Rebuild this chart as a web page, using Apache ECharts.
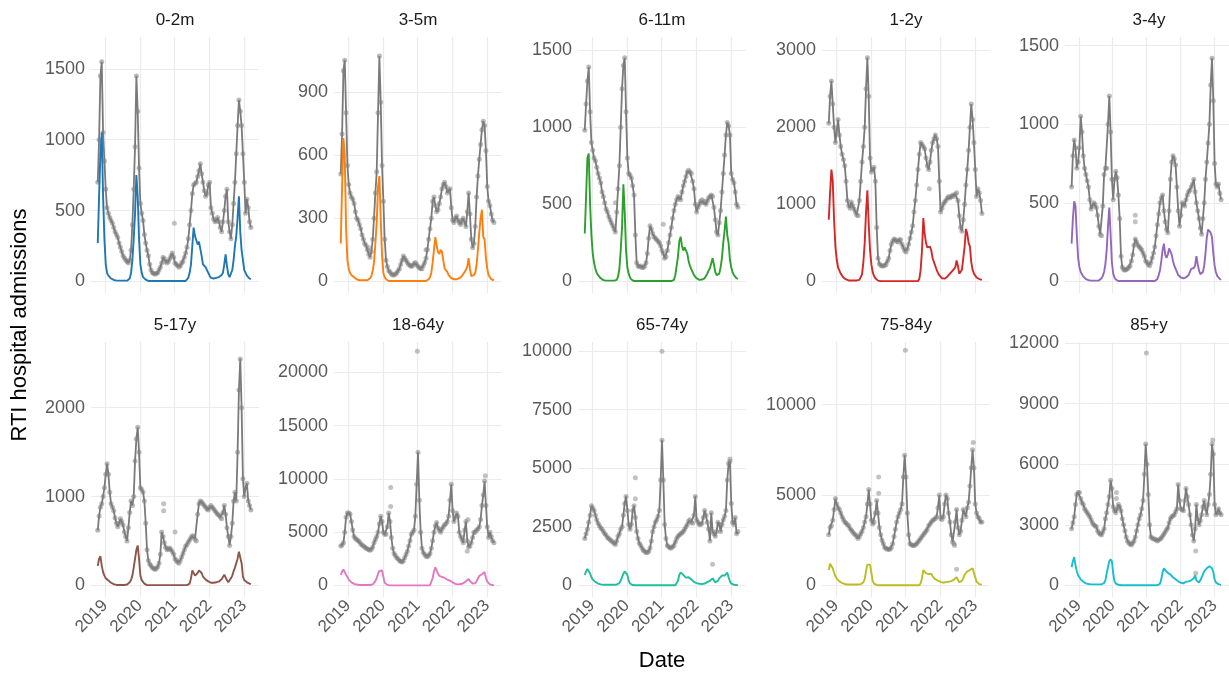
<!DOCTYPE html>
<html>
<head>
<meta charset="utf-8">
<script src="https://cdn.jsdelivr.net/npm/echarts@6/dist/echarts.min.js"></script>
<style>
  html, body { margin: 0; padding: 0; background: #fff; }
  #chart { width: 1229px; height: 675px; }
</style>
</head>
<body>
<div id="chart"></div>
<script>
// fortnightly points, first one on 2018-10-15
const firstDay = [2018, 9, 15]
const stepDays = 14

const panels = ['0-2m', '3-5m', '6-11m', '1-2y', '3-4y', '5-17y', '18-64y', '65-74y', '75-84y', '85+y']
const lineColors = ['#1f77b4', '#ff7f0e', '#2ca02c', '#d62728', '#9467bd', '#8c564b', '#e377c2', '#1fbf9c', '#bcbd22', '#17becf']
const yearTicks = [2019, 2020, 2021, 2022, 2023]
const yTicks = [
  [0, 500, 1000, 1500], [0, 300, 600, 900], [0, 500, 1000, 1500], [0, 1000, 2000, 3000], [0, 500, 1000, 1500],
  [0, 1000, 2000], [0, 5000, 10000, 15000, 20000], [0, 2500, 5000, 7500, 10000], [0, 5000, 10000], [0, 3000, 6000, 9000, 12000]
]
const yTop = [1725, 1160, 1585, 3170, 1555, 2740, 22860, 10390, 13460, 12050]

// grey: all RTI admissions
const rti02 = [
  700, 1000, 1450, 1550, 1050, 850, 650, 520, 480, 450,
  430, 410, 380, 350, 330, 310, 270, 240, 210, 180,
  165, 150, 140, 130, 150, 220, 400, 650, 950, 1450,
  1200, 800, 550, 480, 430, 330, 270, 220, 180, 120,
  80, 60, 55, 50, 55, 60, 80, 100, 130, 170,
  160, 140, 130, 140, 160, 180, 200, 170, 130, 120,
  110, 100, 110, 130, 140, 170, 200, 240, 300, 400,
  500, 620, 680, 690, 700, 740, 780, 830, 760, 700,
  640, 600, 620, 680, 700, 520, 480, 440, 420, 430,
  450, 420, 380, 350, 420, 500, 600, 650, 420, 350,
  300, 400, 550, 700, 900, 1100, 1280, 1200, 1100, 900,
  700, 480, 580, 520, 420, 380
]
const rti35 = [
  510, 700, 1000, 1050, 800, 550, 460, 420, 400, 390,
  370, 330, 300, 290, 270, 250, 220, 200, 180, 170,
  150, 130, 115, 140, 200, 300, 420, 520, 800, 1070,
  850, 550, 380, 200, 100, 70, 50, 45, 35, 30,
  30, 35, 40, 50, 60, 80, 100, 120, 110, 100,
  90, 80, 75, 70, 75, 85, 90, 80, 70, 65,
  60, 60, 75, 90, 110, 150, 200, 250, 300, 380,
  400, 360, 330, 340, 370, 400, 440, 460, 470, 450,
  420, 430, 440, 350, 290, 280, 300, 310, 290, 280,
  270, 290, 300, 280, 260, 330, 420, 320, 200, 160,
  180, 260, 400, 500, 580, 650, 720, 760, 740, 620,
  450, 380, 360, 320, 290, 280
]
const rti611 = [
  980, 1150, 1300, 1390, 1100, 900, 850, 800, 780, 740,
  700, 670, 640, 580, 550, 510, 470, 450, 420, 400,
  380, 360, 340, 320, 450, 600, 750, 1000, 1250, 1400,
  1450, 1100, 800, 700, 690, 670, 620, 560, 300, 120,
  100, 95, 100, 90, 90, 100, 120, 180, 280, 360,
  340, 310, 290, 280, 270, 260, 250, 230, 200, 180,
  150, 160, 200, 250, 300, 350, 410, 460, 500, 530,
  550, 540, 530, 580, 620, 650, 680, 710, 720, 710,
  700, 650, 600, 500, 450, 480, 500, 520, 530, 510,
  520, 500, 520, 540, 550, 560, 550, 480, 400, 320,
  300, 380, 460, 580, 700, 820, 950, 1030, 1010, 950,
  700, 660, 640, 580, 500, 480
]
const rti12 = [
  2050, 2400, 2600, 2300, 2000, 1800, 1950, 2100, 1900, 1750,
  1650, 1580, 1500, 1300, 1050, 980, 950, 1030, 980, 940,
  900, 860, 850, 1050, 1300, 1550, 1750, 2000, 2500, 2900,
  2400, 1600, 1420, 1450, 1480, 1300, 700, 300, 230, 210,
  200, 200, 210, 220, 260, 300, 400, 480, 520, 550,
  540, 520, 510, 540, 540, 480, 440, 400, 380, 420,
  480, 560, 640, 720, 900, 1050, 1250, 1450, 1650, 1800,
  1780, 1750, 1720, 1600, 1500, 1450, 1550, 1700, 1800, 1850,
  1900, 1850, 1750, 1300, 900, 950, 1000, 1030, 1050, 1080,
  1100, 1080, 1100, 1120, 1100, 1130, 1150, 1050, 850, 700,
  650, 800, 1000, 1250, 1450, 1700, 2000, 2300, 2100, 1800,
  1450, 1100, 1200, 1150, 1050, 880
]
const rti34 = [
  600, 800, 900, 850, 720, 760, 850, 1050, 950, 800,
  720, 680, 640, 600, 520, 460, 480, 500, 490, 470,
  420, 350, 300, 290, 480, 680, 720, 720, 1000, 1180,
  950, 650, 520, 650, 700, 660, 550, 400, 160, 90,
  75, 70, 75, 80, 90, 100, 130, 170, 230, 270,
  250, 230, 220, 210, 200, 180, 160, 130, 120, 105,
  100, 120, 150, 180, 220, 290, 360, 430, 500, 530,
  550, 450, 380, 330, 310, 450, 650, 760, 800, 780,
  740, 600, 450, 350, 420, 500, 490, 480, 520, 550,
  570, 580, 600, 620, 650, 570, 500, 450, 400, 340,
  300, 400, 500, 650, 760, 880, 1000, 1250, 1420, 1150,
  750, 620, 600, 620, 560, 520
]
const rti517 = [
  620, 780, 880, 920, 1000, 1100, 1250, 1370, 1250, 1050,
  920, 880, 840, 760, 700, 660, 700, 750, 720, 680,
  600, 550, 500, 650, 820, 950, 900, 1000, 1400, 1650,
  1780, 1500, 1100, 1080, 1050, 950, 700, 400, 280, 240,
  220, 200, 190, 180, 190, 210, 250, 350, 600, 550,
  480, 430, 400, 410, 420, 400, 380, 350, 300, 280,
  260, 250, 280, 320, 360, 400, 440, 460, 490, 510,
  540, 560, 550, 520, 500, 800, 920, 950, 940, 920,
  900, 880, 860, 850, 880, 900, 880, 860, 840, 820,
  800, 790, 770, 750, 820, 900, 800, 650, 550, 450,
  550, 700, 950, 1050, 950, 1500, 2200, 2550, 2000, 1200,
  1000, 1100, 1150, 950, 900, 850
]
const rti1864 = [
  3700, 3800, 4000, 5000, 6400, 6800, 6800, 6700, 6000, 5200,
  4600, 4400, 4300, 4200, 4100, 3900, 3800, 3700, 3600, 3500,
  3450, 3350, 3300, 3400, 3600, 4000, 4300, 4600, 5000, 5800,
  6500, 6000, 5000, 4800, 4800, 5500, 6800, 6000, 4500, 3500,
  3000, 2800, 2600, 2500, 2350, 2250, 2200, 2300, 2600, 2900,
  3200, 3700, 4200, 4800, 5000, 5200, 6500, 9500, 12500, 8000,
  5000, 3500, 3100, 2900, 2750, 2700, 2800, 3000, 3500, 4200,
  5000, 5600, 5900, 5400, 5200, 5000, 5300, 5500, 5700, 5800,
  6000, 6500, 8000, 9500, 7000, 6000, 6400, 6800, 6500, 5000,
  4600, 4300, 4000, 5200, 6000, 4200, 3600, 3700, 4000, 4500,
  5000, 5000, 5200, 5300, 5500, 6200, 7500, 8500, 9800, 7500,
  5500, 4500, 5000, 4600, 4200, 4000
]
const rti6574 = [
  2000, 2200, 2400, 2700, 3000, 3400, 3300, 3200, 3000, 2800,
  2650, 2550, 2450, 2400, 2300, 2200, 2150, 2050, 2000, 1950,
  1900, 1850, 1800, 1750, 1900, 2100, 2200, 2400, 2500, 3000,
  3500, 3800, 3200, 2600, 2400, 2600, 3200, 3400, 2900, 2300,
  2000, 1800, 1700, 1600, 1500, 1450, 1400, 1400, 1450, 1600,
  1900, 2300, 2500, 2700, 2800, 2950, 3200, 4500, 6200, 4500,
  2600, 2000, 1700, 1650, 1600, 1600, 1650, 1700, 1850, 2000,
  2100, 2150, 2200, 2250, 2300, 2400, 2500, 2600, 2750, 2800,
  2700, 2650, 3000, 3800, 2800, 2700, 2600, 2600, 2650, 2900,
  3200, 3000, 2700, 2400, 1900, 3100, 2300, 2200, 2100, 2300,
  2700, 2600, 2300, 2600, 2800, 2950, 3200, 4500, 5200, 5300,
  3500, 2700, 2600, 2900, 2200, 2300
]
const rti7584 = [
  2800, 3200, 3300, 3600, 4200, 4800, 4500, 4300, 4200, 4000,
  3800, 3650, 3500, 3450, 3350, 3300, 3150, 3050, 2950, 2850,
  2800, 2700, 2600, 2700, 2850, 3000, 3200, 3500, 3800, 4500,
  5300, 4500, 3600, 3400, 3500, 4000, 4700, 4000, 3200, 2800,
  2500, 2300, 2100, 2050, 2000, 2000, 2000, 2100, 2300, 2700,
  3100, 3500, 3800, 4000, 4200, 4500, 6000, 7200, 6000, 4000,
  2800, 2300, 2250, 2200, 2200, 2250, 2300, 2400, 2500, 2600,
  2700, 2800, 2900, 3000, 3100, 3300, 3400, 3500, 3600, 3650,
  3700, 3800, 4300, 5000, 3700, 3650, 3800, 4500, 5000, 4800,
  4000, 3500, 2800, 2400, 2300, 3500, 4200, 3200, 2800, 3000,
  3600, 4200, 4000, 3800, 4300, 4600, 5500, 6500, 7500, 6500,
  4500, 4000, 3800, 3700, 3500, 3500
]
const rti85 = [
  2800, 3100, 3400, 4000, 4500, 4600, 4600, 4300, 4100, 4000,
  3800, 3700, 3600, 3500, 3400, 3250, 3100, 3000, 2950, 2900,
  2700, 2600, 2550, 2500, 2650, 2800, 3300, 3600, 4000, 4400,
  5200, 4800, 3900, 3700, 3600, 3800, 4000, 3900, 3700, 3300,
  3000, 2700, 2400, 2200, 2100, 2050, 2000, 2100, 2200, 2400,
  2700, 3000, 3300, 3500, 3800, 4200, 5500, 7000, 6000, 4500,
  3000, 2400, 2350, 2300, 2300, 2250, 2200, 2250, 2300, 2350,
  2450, 2550, 2650, 2750, 2850, 3100, 3300, 3400, 3450, 3500,
  3650, 3800, 5000, 4200, 3800, 3750, 3700, 4200, 4800, 4400,
  4000, 3500, 3000, 2500, 2200, 2800, 4000, 3300, 3000, 3200,
  3500, 3900, 4200, 3800, 3500, 4000, 4500, 5500, 7000, 6500,
  4000, 3500, 3600, 3800, 3600, 3500
]

// coloured: the attributable part
const part02 = [
  270, 600, 900, 1050, 600, 300, 120, 60, 40, 30,
  20, 15, 10, 8, 5, 5, 5, 5, 5, 5,
  5, 5, 5, 8, 20, 60, 150, 300, 480, 750,
  600, 300, 120, 60, 30, 20, 12, 8, 3, 3,
  3, 3, 3, 3, 3, 3, 3, 3, 3, 3,
  3, 3, 3, 3, 3, 3, 3, 3, 3, 3,
  3, 3, 3, 3, 3, 3, 3, 10, 25, 60,
  120, 250, 380, 320, 290, 260, 280, 270, 180, 120,
  110, 100, 80, 60, 40, 25, 20, 20, 20, 25,
  25, 30, 35, 45, 60, 120, 190, 110, 50, 30,
  30, 80, 150, 250, 320, 450, 600, 350, 220, 150,
  80, 60, 40, 30, 20, 15
]
const part35 = [
  180, 450, 680, 600, 250, 100, 60, 40, 30, 25,
  20, 15, 10, 5, 5, 5, 5, 5, 5, 5,
  5, 8, 15, 25, 50, 90, 180, 280, 450, 500,
  300, 120, 40, 20, 10, 5, 2, 2, 2, 2,
  2, 2, 2, 2, 2, 2, 2, 2, 2, 2,
  2, 2, 2, 2, 2, 2, 2, 2, 2, 2,
  2, 2, 2, 2, 2, 5, 10, 20, 40, 90,
  150, 210, 170, 140, 130, 150, 140, 100, 60, 60,
  45, 30, 25, 15, 10, 10, 10, 10, 12, 15,
  20, 25, 35, 45, 55, 70, 110, 60, 25, 25,
  30, 40, 80, 150, 230, 300, 340, 210, 200, 110,
  60, 30, 20, 10, 8, 5
]
const part611 = [
  310, 550, 800, 830, 500, 300, 180, 120, 80, 55,
  40, 30, 20, 12, 8, 5, 5, 5, 5, 5,
  5, 5, 5, 5, 10, 30, 80, 200, 350, 630,
  450, 200, 90, 50, 25, 12, 6, 2, 2, 2,
  2, 2, 2, 2, 2, 2, 2, 2, 2, 2,
  2, 2, 2, 2, 2, 2, 2, 2, 2, 2,
  2, 2, 2, 2, 2, 2, 2, 10, 40, 100,
  160, 260, 290, 230, 200, 220, 210, 180, 130, 100,
  80, 60, 40, 30, 20, 12, 10, 10, 12, 15,
  20, 35, 50, 70, 85, 90, 150, 110, 60, 40,
  30, 50, 90, 150, 250, 330, 420, 300, 250, 140,
  90, 60, 40, 30, 20, 15
]
const part12 = [
  800, 1150, 1450, 1300, 800, 450, 280, 180, 140, 100,
  75, 50, 35, 25, 20, 12, 12, 12, 12, 12,
  12, 12, 12, 20, 40, 90, 250, 500, 900, 1180,
  750, 400, 220, 120, 70, 40, 20, 10, 3, 3,
  3, 3, 3, 3, 3, 3, 3, 3, 3, 3,
  3, 3, 3, 3, 3, 3, 3, 3, 3, 3,
  3, 3, 3, 3, 3, 3, 3, 3, 30, 150,
  400, 820, 620, 500, 440, 430, 450, 400, 300, 250,
  200, 150, 110, 80, 60, 40, 35, 35, 45, 60,
  80, 100, 120, 140, 160, 180, 270, 200, 100, 80,
  150, 300, 450, 680, 620, 500, 450, 250, 150, 100,
  80, 50, 40, 30, 25, 20
]
const part34 = [
  240, 400, 510, 480, 300, 150, 90, 60, 45, 30,
  22, 15, 10, 8, 5, 5, 5, 5, 5, 5,
  5, 5, 10, 20, 35, 60, 110, 200, 350, 470,
  300, 120, 50, 25, 12, 6, 2, 2, 2, 2,
  2, 2, 2, 2, 2, 2, 2, 2, 2, 2,
  2, 2, 2, 2, 2, 2, 2, 2, 2, 2,
  2, 2, 2, 2, 2, 2, 15, 40, 70, 130,
  200, 240, 170, 150, 170, 210, 220, 170, 130, 100,
  80, 60, 40, 30, 25, 20, 20, 20, 25, 30,
  40, 60, 80, 90, 85, 100, 160, 110, 70, 45,
  40, 60, 100, 180, 280, 330, 320, 310, 280, 180,
  100, 60, 35, 25, 15, 10
]
const part517 = [
  220, 300, 330, 220, 150, 110, 80, 65, 55, 40,
  30, 20, 15, 10, 5, 5, 5, 5, 5, 5,
  5, 5, 10, 20, 35, 60, 110, 200, 300, 400,
  450, 300, 110, 60, 40, 20, 10, 3, 3, 3,
  3, 3, 3, 3, 3, 3, 3, 3, 3, 3,
  3, 3, 3, 3, 3, 3, 3, 3, 3, 3,
  3, 3, 3, 3, 3, 3, 3, 3, 3, 20,
  80, 170, 180, 110, 100, 140, 170, 180, 140, 100,
  80, 65, 55, 45, 35, 30, 30, 30, 35, 35,
  40, 45, 55, 70, 90, 120, 130, 60, 35, 40,
  80, 110, 160, 200, 220, 300, 380, 400, 250, 100,
  60, 45, 35, 25, 20, 15
]
const part1864 = [
  1000, 1300, 1500, 1250, 1000, 800, 550, 400, 280, 200,
  150, 110, 80, 60, 40, 40, 40, 40, 40, 40,
  40, 40, 40, 60, 100, 200, 400, 700, 1100, 1350,
  1400, 1400, 800, 250, 100, 50, 20, 5, 5, 5,
  5, 5, 5, 5, 5, 5, 5, 5, 5, 5,
  5, 5, 5, 5, 5, 5, 5, 5, 5, 5,
  5, 5, 5, 5, 5, 5, 5, 5, 150, 700,
  1300, 1700, 1400, 1100, 900, 850, 800, 880, 700, 600,
  550, 500, 450, 400, 280, 200, 150, 100, 100, 110,
  130, 150, 200, 280, 400, 550, 600, 400, 250, 180,
  150, 200, 400, 650, 900, 1000, 1050, 1150, 1250, 700,
  350, 200, 100, 60, 40, 30
]
const part6574 = [
  450, 600, 700, 600, 500, 350, 250, 180, 150, 100,
  80, 60, 45, 35, 25, 25, 25, 25, 25, 25,
  25, 25, 25, 30, 40, 60, 100, 200, 350, 500,
  600, 620, 450, 200, 80, 30, 15, 5, 5, 5,
  5, 5, 5, 5, 5, 5, 5, 5, 5, 5,
  5, 5, 5, 5, 5, 5, 5, 5, 5, 5,
  5, 5, 5, 5, 5, 5, 5, 5, 5, 60,
  200, 450, 550, 480, 450, 400, 330, 300, 350, 320,
  250, 200, 150, 130, 100, 80, 70, 60, 55, 60,
  80, 110, 140, 160, 200, 250, 300, 220, 120, 120,
  200, 300, 380, 420, 450, 420, 480, 550, 350, 180,
  80, 50, 30, 20, 15, 10
]
const part7584 = [
  850, 1200, 1300, 950, 700, 500, 380, 280, 220, 170,
  130, 100, 80, 70, 50, 50, 50, 50, 50, 50,
  50, 50, 50, 50, 70, 110, 180, 350, 800, 1150,
  1200, 1150, 700, 250, 100, 50, 25, 8, 8, 8,
  8, 8, 8, 8, 8, 8, 8, 8, 8, 8,
  8, 8, 8, 8, 8, 8, 8, 8, 8, 8,
  8, 8, 8, 8, 8, 8, 8, 8, 8, 120,
  400, 850, 750, 680, 650, 620, 600, 650, 500, 400,
  340, 300, 260, 230, 200, 170, 150, 160, 180, 200,
  200, 210, 240, 280, 320, 400, 450, 300, 180, 150,
  250, 400, 600, 700, 780, 820, 850, 900, 950, 1000,
  450, 200, 120, 70, 50, 40
]
const part85 = [
  900, 1200, 1400, 1000, 700, 500, 400, 300, 230, 180,
  130, 100, 80, 70, 50, 50, 50, 50, 50, 50,
  50, 50, 50, 50, 50, 120, 250, 600, 900, 1200,
  1300, 1200, 600, 200, 90, 50, 30, 20, 10, 10,
  10, 10, 10, 10, 10, 10, 10, 10, 10, 10,
  10, 10, 10, 10, 10, 10, 10, 10, 10, 10,
  10, 10, 10, 10, 10, 10, 10, 10, 80, 300,
  650, 850, 750, 680, 620, 580, 540, 480, 400, 350,
  300, 250, 200, 150, 130, 110, 100, 140, 180, 200,
  200, 220, 250, 280, 350, 500, 250, 180, 150, 250,
  400, 550, 700, 780, 850, 900, 950, 1000, 850, 650,
  300, 150, 100, 60, 40, 30
]

// single grey points lying off the line
const odd02 = [['2020-12-28', 410]]
const odd35 = [['2019-08-05', 160], ['2021-03-29', 150]]
const odd611 = [['2019-09-02', 510], ['2021-01-18', 370]]
const odd12 = [['2021-09-06', 1200]]
const odd34 = [['2020-08-31', 420], ['2020-08-31', 380]]
const odd517 = [['2020-09-07', 920], ['2020-09-07', 840], ['2021-01-04', 600]]
const odd1864 = [['2020-12-28', 22000], ['2020-03-23', 9200], ['2020-03-23', 7400], ['2022-06-06', 3200], ['2022-06-13', 6200], ['2022-12-12', 10300]]
const odd6574 = [['2021-01-04', 10000], ['2020-03-30', 4600], ['2020-03-30', 3700], ['2022-06-20', 900], ['2022-12-19', 5400]]
const odd7584 = [['2020-12-28', 13000], ['2020-03-23', 6000], ['2020-03-23', 5100], ['2022-05-30', 2200], ['2022-06-20', 900], ['2022-12-12', 7900]]
const odd85 = [['2020-12-28', 11500], ['2020-02-10', 4600], ['2020-02-10', 4300], ['2022-06-13', 1700], ['2022-06-13', 600], ['2022-12-12', 7200]]

const rtiAll = [rti02, rti35, rti611, rti12, rti34, rti517, rti1864, rti6574, rti7584, rti85]
const partAll = [part02, part35, part611, part12, part34, part517, part1864, part6574, part7584, part85]
const oddAll = [odd02, odd35, odd611, odd12, odd34, odd517, odd1864, odd6574, odd7584, odd85]

const chart = echarts.init(document.getElementById('chart'), null, { renderer: 'canvas' })

function stamp(s) {
  const p = s.split('-').map(Number)
  return new Date(p[0], p[1] - 1, p[2]).getTime()
}

const days = rti02.map((v, k) => new Date(firstDay[0], firstDay[1], firstDay[2] + stepDays * k).getTime())
const yearStamps = yearTicks.map(y => new Date(y, 0, 1).getTime())
const xMin = new Date(2018, 7, 5).getTime()
const xMax = new Date(2023, 5, 6).getTime()

const lefts = [91, 334, 578, 822, 1065]
const tops = [37, 342]
const heights = [256, 255]
const panelWidth = 168
const font = 'Liberation Sans, Arial, sans-serif'

const grids = []
const xAxes = []
const yAxes = []
const series = []
const graphics = []

panels.forEach((name, i) => {
  const row = i < 5 ? 0 : 1
  const left = lefts[i % 5]
  grids.push({ left: left, top: tops[row], width: panelWidth, height: heights[row], containLabel: false })
  xAxes.push({
    gridIndex: i,
    type: 'value',
    min: xMin,
    max: xMax,
    axisLine: { show: false },
    axisTick: { show: false, customValues: yearStamps },
    axisLabel: {
      show: row === 1,
      customValues: yearStamps,
      formatter: v => String(new Date(v).getFullYear()),
      rotate: 45,
      fontSize: 17,
      fontFamily: font,
      color: '#5a5a5a',
      margin: 6
    },
    splitLine: { show: true, lineStyle: { color: '#ebebeb', width: 1.2 } }
  })
  const top = yTop[i]
  yAxes.push({
    gridIndex: i,
    type: 'value',
    min: -top * 0.05 / 1.05,
    max: top,
    axisLine: { show: false },
    axisTick: { show: false, customValues: yTicks[i] },
    axisLabel: {
      customValues: yTicks[i],
      formatter: v => String(v),
      fontSize: 18,
      fontFamily: font,
      color: '#5a5a5a',
      margin: 6
    },
    splitLine: { show: true, lineStyle: { color: '#ebebeb', width: 1.2 } }
  })
  series.push({
    name: name + ' all',
    type: 'line',
    xAxisIndex: i,
    yAxisIndex: i,
    data: days.map((d, k) => [d, rtiAll[i][k]]),
    showSymbol: true,
    showAllSymbol: true,
    symbol: 'circle',
    symbolSize: 5,
    itemStyle: { color: 'rgba(128,128,128,0.55)' },
    lineStyle: { color: '#7a7a7a', width: 1.8 },
    silent: true,
    z: 2
  })
  series.push({
    name: name + ' odd',
    type: 'scatter',
    xAxisIndex: i,
    yAxisIndex: i,
    data: oddAll[i].map(p => [stamp(p[0]), p[1]]),
    symbolSize: 5,
    itemStyle: { color: 'rgba(128,128,128,0.6)' },
    silent: true,
    z: 2
  })
  series.push({
    name: name,
    type: 'line',
    xAxisIndex: i,
    yAxisIndex: i,
    data: days.map((d, k) => [d, partAll[i][k]]),
    showSymbol: false,
    lineStyle: { color: lineColors[i], width: 1.9 },
    silent: true,
    z: 3
  })
  graphics.push({
    type: 'text',
    x: left + panelWidth / 2,
    y: tops[row] - 17,
    style: {
      text: name,
      align: 'center',
      verticalAlign: 'middle',
      fontSize: 17,
      fontFamily: font,
      fill: '#1a1a1a'
    }
  })
})

graphics.push({
  type: 'text',
  x: 20,
  y: 325,
  rotation: Math.PI / 2,
  style: {
    text: 'RTI hospital admissions',
    align: 'center',
    verticalAlign: 'middle',
    fontSize: 22,
    fontFamily: font,
    fill: '#000'
  }
})
graphics.push({
  type: 'text',
  x: 662,
  y: 661,
  style: {
    text: 'Date',
    align: 'center',
    verticalAlign: 'middle',
    fontSize: 22,
    fontFamily: font,
    fill: '#000'
  }
})

chart.setOption({
  backgroundColor: '#fff',
  animation: false,
  grid: grids,
  xAxis: xAxes,
  yAxis: yAxes,
  series: series,
  graphic: graphics
})
</script>
</body>
</html>
